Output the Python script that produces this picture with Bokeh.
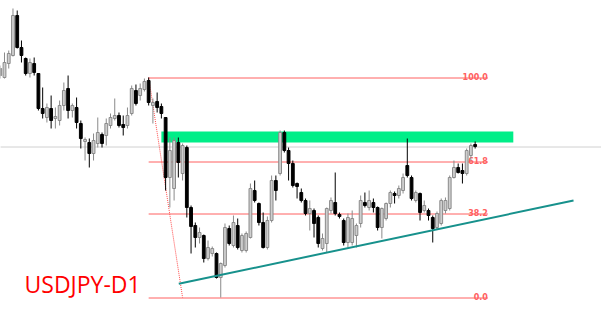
from bokeh.plotting import figure
from bokeh.models import ColumnDataSource, Range1d
from bokeh.core.properties import value
from bokeh.embed import file_html
from bokeh.resources import INLINE

# Daily candles (relative price units)
opens = [225, 223, 237, 245, 285, 253, 242, 227, 237, 227,
         192, 183, 192, 182, 180, 195, 212, 190, 193, 177,
         159, 158, 147, 157, 166, 165, 175, 182, 185, 176,
         175, 187, 210, 205, 211, 220, 195, 199, 194, 183,
         123, 112, 158, 127, 153, 93, 75, 63, 65, 42,
         47, 47, 23, 35, 72, 55, 75, 50, 50, 63,
         110, 97, 78, 53, 80, 120, 127, 168, 150, 137,
         117, 108, 100, 87, 90, 83, 52, 57, 90, 98,
         86, 80, 58, 58, 65, 77, 98, 93, 98, 93,
         73, 82, 97, 107, 105, 110, 135, 123, 100, 107,
         90, 90, 83, 73, 77, 90, 92, 123, 133, 130,
         127, 145, 156]
highs = [235, 248, 250, 292, 290, 260, 243, 242, 243, 227,
         213, 197, 205, 193, 200, 218, 225, 197, 203, 180,
         163, 162, 167, 183, 168, 182, 187, 202, 188, 185,
         193, 215, 216, 217, 222, 223, 202, 208, 197, 183,
         163, 163, 163, 157, 155, 95, 78, 73, 66, 60,
         54, 48, 38, 77, 75, 85, 82, 67, 69, 117,
         120, 98, 88, 84, 125, 125, 170, 170, 153, 140,
         118, 112, 102, 100, 92, 85, 67, 93, 103, 128,
         88, 82, 87, 90, 77, 105, 108, 110, 102, 94,
         93, 98, 110, 109, 115, 127, 162, 125, 110, 108,
         100, 92, 85, 89, 102, 103, 125, 140, 137, 137,
         152, 157, 159]
lows = [222, 222, 232, 244, 252, 238, 225, 223, 225, 190,
        182, 178, 172, 172, 175, 190, 182, 183, 172, 152,
        140, 133, 140, 153, 153, 155, 172, 180, 173, 165,
        172, 185, 195, 200, 209, 195, 177, 188, 182, 110,
        93, 100, 123, 120, 83, 47, 53, 57, 38, 40,
        44, 22, 3, 33, 55, 53, 51, 48, 48, 62,
        98, 75, 52, 51, 78, 100, 125, 148, 120, 113,
        102, 98, 85, 70, 63, 53, 50, 48, 87, 85,
        82, 55, 53, 55, 53, 73, 93, 90, 88, 70,
        62, 80, 93, 97, 102, 107, 123, 100, 98, 80,
        88, 80, 58, 71, 75, 87, 90, 122, 127, 117,
        125, 140, 152]
closes = [232, 238, 247, 285, 253, 245, 227, 238, 228, 192,
          187, 193, 180, 184, 195, 210, 190, 195, 178, 162,
          161, 147, 160, 168, 157, 177, 183, 185, 175, 173,
          185, 212, 197, 212, 219, 198, 198, 193, 187, 123,
          150, 160, 138, 155, 93, 74, 63, 68, 42, 53,
          52, 23, 37, 73, 57, 78, 53, 65, 67, 112,
          100, 78, 53, 80, 120, 110, 168, 150, 137, 115,
          114, 100, 87, 92, 77, 57, 62, 92, 100, 87,
          84, 58, 83, 82, 75, 100, 95, 100, 93, 73,
          92, 97, 108, 105, 112, 123, 125, 102, 108, 88,
          95, 85, 72, 87, 100, 100, 123, 133, 128, 127,
          150, 155, 154]

# Fibonacci retracement anchors (candle index) and levels
fib_high_idx = 35
fib_low_idx = 52
fib_anchor2_idx = 43
fib_end_idx = 115
fib_ratios = [1.0, 0.618, 0.382, 0.0]
fib_labels = ["100.0", "61.8", "38.2", "0.0"]

# Resistance zone and rising trend line
zone_left, zone_right = 38, 121
zone_bottom, zone_top = 158, 169
trend_x = [42.1, 135.2]
trend_y = [16.7, 100.0]
price_line = 153.5
title_text = "USDJPY-D1"

n = len(opens)
idx = list(range(n))
bull = [c >= o for o, c in zip(opens, closes)]

def sub(mask):
    sel = [i for i in idx if mask[i]]
    return ColumnDataSource(dict(
        x=sel,
        top=[max(opens[i], closes[i]) + (0.6 if abs(opens[i] - closes[i]) < 1.2 else 0) for i in sel],
        bottom=[min(opens[i], closes[i]) - (0.6 if abs(opens[i] - closes[i]) < 1.2 else 0) for i in sel],
        high=[highs[i] for i in sel],
        low=[lows[i] for i in sel],
    ))

inc = sub(bull)
dec = sub([not b for b in bull])

p = figure(width=601, height=316, output_backend="svg", toolbar_location=None,
           x_range=Range1d(0.057, 141.8), y_range=Range1d(-16, 300),
           min_border=0, min_border_left=0, min_border_right=0,
           min_border_top=0, min_border_bottom=0)
p.axis.visible = False
p.grid.visible = False
p.outline_line_color = None
p.background_fill_color = "white"
p.border_fill_color = "white"

# current price line
p.line([0, 145], [price_line, price_line], line_color="#d0d0d0", line_width=1)

# resistance zone
p.quad(left=[zone_left], right=[zone_right], bottom=[zone_bottom], top=[zone_top],
       fill_color="#00ee88", line_color=None)

# fibonacci
hi = highs[fib_high_idx]
lo = lows[fib_low_idx]
levels = [lo + r * (hi - lo) for r in fib_ratios]
for lv, lab in zip(levels, fib_labels):
    yl = round(lv) - 0.5
    p.line([fib_high_idx, fib_end_idx], [yl, yl], line_color="#ff6060", line_width=1)
    p.text(x=[fib_end_idx], y=[yl + 1.5], text=[lab], text_align="right",
           text_baseline="alphabetic", text_font=value("DejaVu Sans"),
           text_font_size="8px", text_font_style="bold", text_color="#ff6060")
p.line([fib_high_idx, fib_anchor2_idx], [hi, lo], line_color="#ff4d4d",
       line_width=1, line_dash="1 1")

# candles
p.segment(x0="x", y0="high", x1="x", y1="low", source=inc, line_color="#8a8a8a", line_width=1)
p.segment(x0="x", y0="high", x1="x", y1="low", source=dec, line_color="black", line_width=1)
p.vbar(x="x", top="top", bottom="bottom", width=0.66, source=inc,
       fill_color="#cfcfcf", line_color="#8a8a8a", line_width=1)
p.vbar(x="x", top="top", bottom="bottom", width=0.66, source=dec,
       fill_color="black", line_color="black", line_width=1)

# trend line
p.line(trend_x, trend_y, line_color="#17918c", line_width=2)

# title
p.text(x=[5.72], y=[17], text=[title_text], text_align="left", text_baseline="alphabetic",
       text_font=value("Open Sans"), text_font_size="23px", text_color="#ff0000")

open("out.html", "w").write(file_html(p, INLINE))
